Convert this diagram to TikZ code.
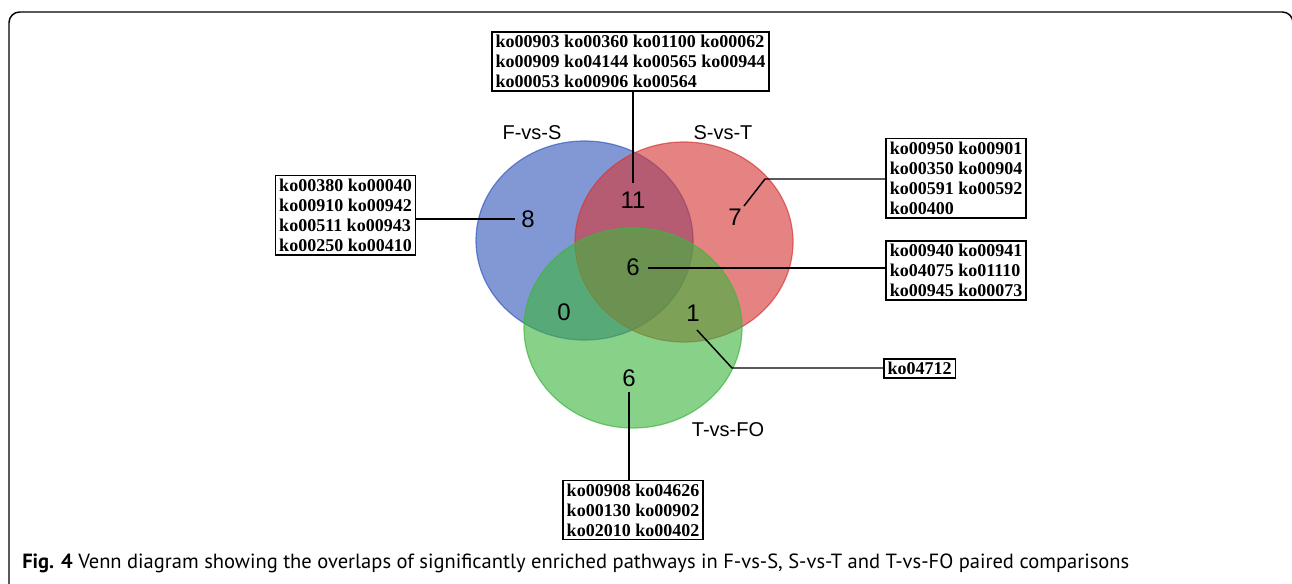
\documentclass[tikz,border=0pt]{standalone}
\usepackage{fontspec}
\setmainfont{Liberation Serif}
\newfontfamily\lsans{Liberation Sans}
\newfontfamily\capfont{PT Sans}
\definecolor{vblue}{RGB}{53,88,188}
\definecolor{vred}{RGB}{213,55,55}
\definecolor{vgreen}{RGB}{63,180,63}
\begin{document}
\begin{tikzpicture}[x=0.75pt,y=-0.75pt,
  kobox/.style={draw, line width=1.1pt, inner xsep=2.8pt, inner ysep=2.4pt, align=left, fill=white,
    font=\fontsize{13.5}{15.1}\selectfont\bfseries},
  num/.style={font=\lsans\fontsize{18}{18}\selectfont, inner sep=0pt},
  setlabel/.style={font=\lsans\fontsize{15}{15}\selectfont, inner sep=0pt},
  lead/.style={line width=1.1pt},
  venn/.style={fill opacity=0.62, draw opacity=0.7, line width=0.9pt}]
\useasboundingbox (0,0) rectangle (1292,584);
% frame
\draw[line width=1.1pt, rounded corners=8] (9,600) -- (9,12) -- (1293,12) -- (1293,600);
% venn
\filldraw[venn, fill=vblue, draw=vblue] (584.5,240.5) ellipse [x radius=108.5, y radius=99.5];
\filldraw[venn, fill=vred, draw=vred] (684,242) ellipse [x radius=109, y radius=100];
\filldraw[venn, fill=vgreen, draw=vgreen] (633,328) ellipse [x radius=109, y radius=100];
% set labels
\node[setlabel] (lFS) at (532,133) {F-vs-S};
\node[setlabel] (lST) at (723,133) {S-vs-T};
\node[setlabel] (lTF) at (728,430) {T-vs-FO};
% numbers
\node[num] (n8) at (528,219) {8};
\node[num] (n11) at (633,200) {11};
\node[num] (n7) at (735,217) {7};
\node[num] (n6c) at (633,267) {6};
\node[num] (n0) at (564,312) {0};
\node[num] (n1) at (693,313) {1};
\node[num] (n6b) at (629,378) {6};
% connector ends
\coordinate (c11) at (633,183);
\coordinate (c8) at (515,219);
\coordinate (c7a) at (744,206);
\coordinate (c7b) at (765,179);
\coordinate (c6c) at (648,268);
\coordinate (c1a) at (697,330);
\coordinate (c1b) at (732,368);
\coordinate (c6b) at (629,392);
% boxes
\node[kobox] (bTop) at (630.5,61.5) {ko00903 ko00360 ko01100 ko00062\\ko00909 ko04144 ko00565 ko00944\\ko00053 ko00906 ko00564};
\node[kobox] (bLeft) at (345.5,215.5) {ko00380 ko00040\\ko00910 ko00942\\ko00511 ko00943\\ko00250 ko00410};
\node[kobox] (bR1) at (956,178.5) {ko00950 ko00901\\ko00350 ko00904\\ko00591 ko00592\\ko00400};
\node[kobox] (bR2) at (956,270.5) {ko00940 ko00941\\ko04075 ko01110\\ko00945 ko00073};
\node[kobox] (bR3) at (919.5,368.5) {ko04712};
\node[kobox] (bBot) at (633,510) {ko00908 ko04626\\ko00130 ko00902\\ko02010 ko00402};
% leads
\draw[lead] (bTop.south -| c11) -- (c11);
\draw[lead] (bLeft.east |- c8) -- (c8);
\draw[lead] (c7a) -- (c7b) -- (bR1.west |- c7b);
\draw[lead] (c6c) -- (bR2.west |- c6c);
\draw[lead] (c1a) -- (c1b) -- (bR3.west |- c1b);
\draw[lead] (c6b) -- (bBot.north -| c6b);
% caption
\node[anchor=base west, inner sep=0pt, font=\capfont\fontsize{15.4}{15.4}\selectfont] (cap) at (22,568)
  {\textbf{Fig. 4} Venn diagram showing the overlaps of significantly enriched pathways in F-vs-S, S-vs-T and T-vs-FO paired comparisons};
\end{tikzpicture}
\end{document}
